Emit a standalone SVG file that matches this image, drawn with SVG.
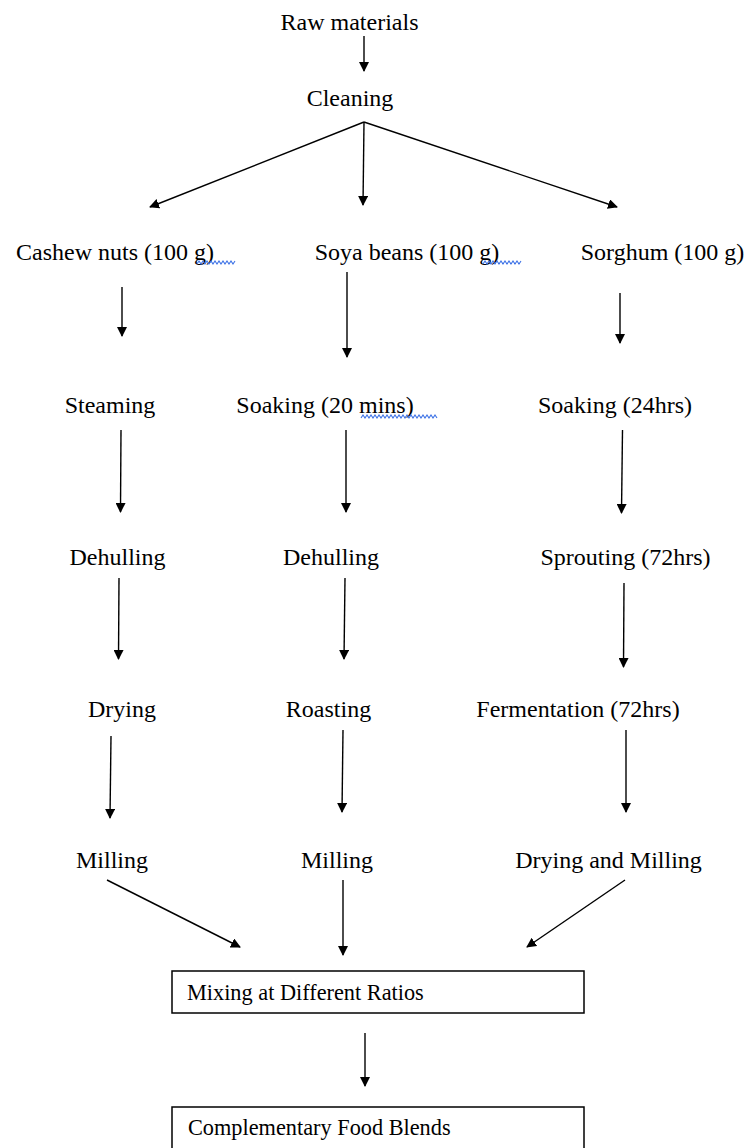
<svg xmlns="http://www.w3.org/2000/svg" width="749" height="1148" viewBox="0 0 749 1148">
<defs>
<marker id="ah" viewBox="0 0 10 10" refX="9" refY="5" markerWidth="10" markerHeight="10" markerUnits="userSpaceOnUse" orient="auto">
<path d="M0,0 L10,5 L0,10 Z" fill="#000"/>
</marker>
<style>
.t{font-family:"Liberation Serif","Times New Roman",serif;font-size:24px;fill:#000;text-anchor:middle}
.b{font-family:"Liberation Serif","Times New Roman",serif;font-size:22.3px;fill:#000}
.c line{stroke:#000;stroke-width:1.4;marker-end:url(#ah)}
.box{fill:#fff;stroke:#000;stroke-width:1.5}
.sq{fill:none;stroke:#3d72e6;stroke-width:1.1}
</style>
</defs>
<rect width="749" height="1148" fill="#fff"/>
<g class="c" id="connectors">
<line x1="364" y1="36" x2="364" y2="71"/>
<line x1="364" y1="122" x2="150" y2="207"/>
<line x1="364" y1="122" x2="363" y2="205"/>
<line x1="364" y1="122" x2="617" y2="207"/>
<line x1="122" y1="287" x2="122" y2="336"/>
<line x1="347" y1="272" x2="347" y2="357"/>
<line x1="620" y1="293" x2="620" y2="343"/>
<line x1="121" y1="430" x2="120.5" y2="512"/>
<line x1="346" y1="430" x2="346" y2="512"/>
<line x1="622.5" y1="430" x2="621.5" y2="513"/>
<line x1="119" y1="578" x2="118.5" y2="659"/>
<line x1="345" y1="578" x2="344" y2="659"/>
<line x1="624" y1="583" x2="623.5" y2="667"/>
<line x1="111" y1="736" x2="110" y2="818"/>
<line x1="343" y1="730" x2="342" y2="812"/>
<line x1="626" y1="730" x2="626" y2="812"/>
<line x1="107" y1="880" x2="240" y2="947"/>
<line x1="343" y1="880" x2="343" y2="955"/>
<line x1="625" y1="880" x2="527" y2="947"/>
<line x1="365" y1="1033" x2="365" y2="1086"/>
</g>
<g id="n-raw"><text class="t" x="349.5" y="30">Raw materials</text></g>
<g id="n-cleaning"><text class="t" x="350" y="106">Cleaning</text></g>
<g id="n-cashew"><text class="t" x="115" y="260">Cashew nuts (100 g)</text><path class="sq" d="M197,264 l2,-3 l2,3 l2,-3 l2,3 l2,-3 l2,3 l2,-3 l2,3 l2,-3 l2,3 l2,-3 l2,3 l2,-3 l2,3 l2,-3 l2,3 l2,-3 l2,3 l2,-3"/></g>
<g id="n-soya"><text class="t" x="407" y="260">Soya beans (100 g)</text><path class="sq" d="M483,264 l2,-3 l2,3 l2,-3 l2,3 l2,-3 l2,3 l2,-3 l2,3 l2,-3 l2,3 l2,-3 l2,3 l2,-3 l2,3 l2,-3 l2,3 l2,-3 l2,3 l2,-3"/></g>
<g id="n-sorghum"><text class="t" x="662.5" y="260">Sorghum (100 g)</text></g>
<g id="n-steaming"><text class="t" x="110" y="413">Steaming</text></g>
<g id="n-soak20"><text class="t" x="325" y="413">Soaking (20 mins)</text><path class="sq" d="M361,418 l2,-3 l2,3 l2,-3 l2,3 l2,-3 l2,3 l2,-3 l2,3 l2,-3 l2,3 l2,-3 l2,3 l2,-3 l2,3 l2,-3 l2,3 l2,-3 l2,3 l2,-3 l2,3 l2,-3 l2,3 l2,-3 l2,3 l2,-3 l2,3 l2,-3 l2,3 l2,-3 l2,3 l2,-3 l2,3 l2,-3 l2,3 l2,-3 l2,3 l2,-3 l2,3"/></g>
<g id="n-soak24"><text class="t" x="615" y="413">Soaking (24hrs)</text></g>
<g id="n-dehull1"><text class="t" x="117.5" y="565">Dehulling</text></g>
<g id="n-dehull2"><text class="t" x="331" y="565">Dehulling</text></g>
<g id="n-sprout"><text class="t" x="625.5" y="565">Sprouting (72hrs)</text></g>
<g id="n-drying"><text class="t" x="122" y="717">Drying</text></g>
<g id="n-roast"><text class="t" x="328.5" y="717">Roasting</text></g>
<g id="n-ferment"><text class="t" x="578" y="717">Fermentation (72hrs)</text></g>
<g id="n-mill1"><text class="t" x="112" y="868">Milling</text></g>
<g id="n-mill2"><text class="t" x="337" y="868">Milling</text></g>
<g id="n-drymill"><text class="t" x="608.5" y="868">Drying and Milling</text></g>
<g id="n-mixing"><rect class="box" x="172" y="971" width="412" height="42"/><text class="b" x="187" y="1000">Mixing at Different Ratios</text></g>
<g id="n-blends"><rect class="box" x="172" y="1107" width="412" height="60"/><text class="b" x="188" y="1135">Complementary Food Blends</text></g>
</svg>
